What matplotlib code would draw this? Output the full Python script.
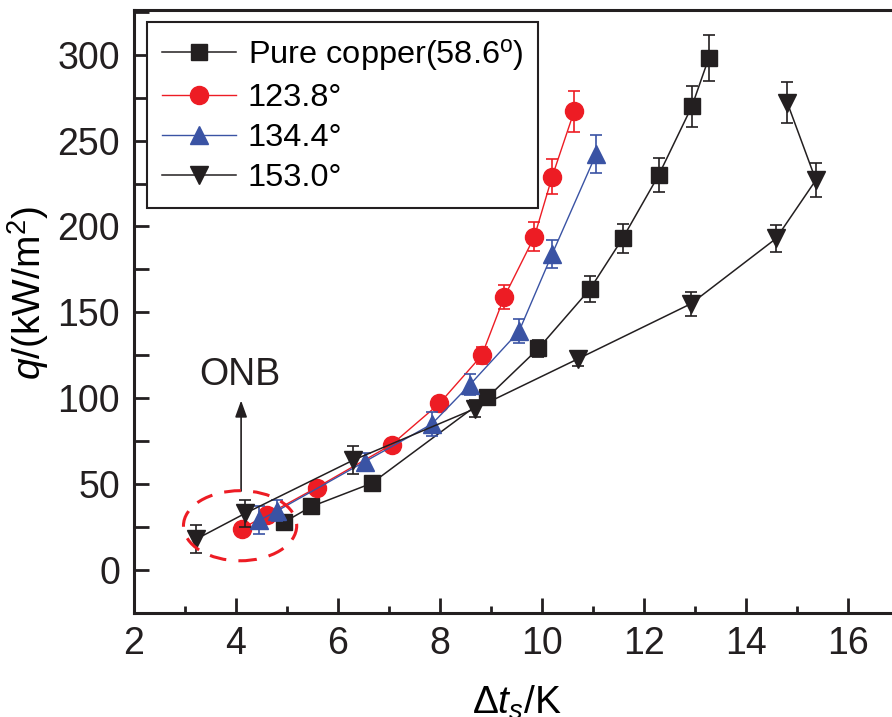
import matplotlib
matplotlib.use("Agg")
import matplotlib.pyplot as plt
from matplotlib.patches import Ellipse
from matplotlib.ticker import MultipleLocator

plt.rcParams['font.family'] = ['Liberation Sans', 'DejaVu Sans']
plt.rcParams['mathtext.fontset'] = 'custom'
plt.rcParams['mathtext.rm'] = 'Liberation Sans'
plt.rcParams['mathtext.it'] = 'Liberation Sans:italic'

# boiling curves: superheat (K) vs heat flux (kW/m2) with error bars
cu_dt = [4.95, 5.48, 6.66, 8.93, 9.93, 10.94, 11.58, 12.29, 12.94, 13.27]
cu_q = [28, 37, 50.5, 100.5, 129, 163.5, 193, 230, 270, 298]
cu_err = [3, 3, 3, 4, 5, 7.5, 8.5, 10, 12, 13.5]

s124_dt = [4.11, 4.60, 5.58, 7.05, 7.99, 8.82, 9.26, 9.85, 10.20, 10.63]
s124_q = [24, 32, 48, 73, 97, 125, 159, 194, 229, 267]
s124_err = [3, 3, 3, 3, 4, 5, 7, 8.5, 10, 12]

s134_dt = [4.46, 4.81, 6.52, 7.84, 8.59, 9.55, 10.20, 11.06]
s134_q = [29, 34.5, 63, 85, 108, 139, 184, 242]
s134_err = [8, 6, 5, 7, 6, 7, 8, 11]

s153_dt = [3.22, 4.18, 6.30, 8.69, 10.71, 12.92, 14.59, 15.37, 14.81]
s153_q = [18, 33, 64, 94, 123, 155, 193, 227, 272]
s153_err = [8, 8, 8, 5, 4, 7, 8, 10, 12]

labels = ['Pure copper(58.6$^{\\rm o}$)', '123.8°', '134.4°', '153.0°']

BLACK = '#231F20'
RED = '#ED1C24'
BLUE = '#3A53A4'

fig = plt.figure(figsize=(8.92, 7.17), dpi=100)
ax = fig.add_axes([134 / 892, 104 / 717, 765 / 892, 603 / 717])

series = [
    (cu_dt, cu_q, cu_err, 's', 12, BLACK, 1.1),
    (s124_dt, s124_q, s124_err, 'o', 13, RED, 1.0),
    (s134_dt, s134_q, s134_err, '^', 13, BLUE, 1.0),
    (s153_dt, s153_q, s153_err, 'v', 13, BLACK, 1.1),
]
for i, ((dt, q, err, mk, ms, col, lw), lab) in enumerate(zip(series, labels)):
    # error bars sit behind the markers
    ax.errorbar(dt, q, yerr=err, fmt='none', ecolor=col, elinewidth=1.2,
                capsize=4.5, capthick=1.2, zorder=2 + 2 * i)
    ax.plot(dt, q, '-' + mk, color=col, ms=ms, lw=lw, label=lab, zorder=3 + 2 * i)

# ONB region
ax.add_patch(Ellipse((4.08, 25.8), 2.22, 40.8, fill=False, edgecolor=RED,
                     lw=2.2, linestyle=(0, (5.5, 4)), zorder=12))
ax.annotate('', xy=(4.1, 98.7), xytext=(4.1, 46),
            arrowprops=dict(arrowstyle='-|>,head_length=0.5,head_width=0.18',
                            color=BLACK, lw=1.2, mutation_scale=20,
                            shrinkA=0, shrinkB=0))
ax.text(4.08, 113.5, 'ONB', fontsize=27, ha='center', va='center', color=BLACK)

ax.set_xlim(2, 17)
ax.set_ylim(-25, 326)
ax.xaxis.set_major_locator(MultipleLocator(2))
ax.xaxis.set_minor_locator(MultipleLocator(1))
ax.yaxis.set_major_locator(MultipleLocator(50))
ax.yaxis.set_minor_locator(MultipleLocator(25))

for sp in ax.spines.values():
    sp.set_linewidth(2.2)
    sp.set_color(BLACK)

ax.tick_params(which='both', direction='in', width=2, colors=BLACK)
ax.tick_params(axis='x', which='major', length=11, pad=9)
ax.tick_params(axis='x', which='minor', length=5)
ax.tick_params(axis='y', which='both', length=11, pad=10)

for t in ax.get_yticklabels():
    t.set_fontsize(27)
for t in ax.get_xticklabels():
    t.set_fontsize(27)

ax.set_ylabel('$q$/(kW/m$^2$)', fontsize=28)
ax.yaxis.set_label_coords(-0.108, 0.53)
ax.set_xlabel('$\\Delta t_{s}$/K', fontsize=28, labelpad=16)

leg = ax.legend(loc='upper left', bbox_to_anchor=(0.017, 0.980), borderaxespad=0,
                fontsize=23.4, frameon=True, fancybox=False, framealpha=1,
                edgecolor=BLACK, handlelength=2.3, handletextpad=0.35,
                labelspacing=0.3, borderpad=0.45)
leg.get_frame().set_linewidth(1.5)
leg.set_zorder(20)

fig.savefig('out.png', dpi=100)
